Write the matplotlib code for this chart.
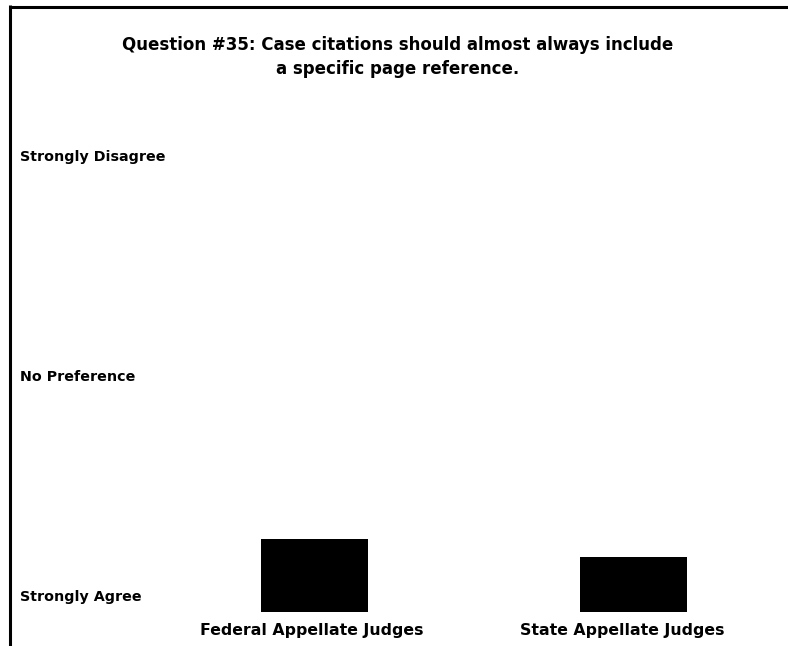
import matplotlib.pyplot as plt
import matplotlib.transforms as mtransforms
from matplotlib.lines import Line2D

# data
groups = ['Federal Appellate Judges', 'State Appellate Judges']
mean_scores = [1.66, 1.50]          # 1 = Strongly Agree ... 5 = Strongly Disagree
scale_values = [1, 3, 5]
scale_labels = ['Strongly Agree', 'No Preference', 'Strongly Disagree']
title = 'Question #35: Case citations should almost always include\na specific page reference.'

plt.rcParams['font.family'] = 'DejaVu Sans'
plt.rcParams['font.weight'] = 'bold'

W, H = 788, 646
fig = plt.figure(figsize=(W / 100, H / 100), dpi=100)

# axes placed in pixels
left, right, bottom, top = 187, 761, 612, 172
ax = fig.add_axes([left / W, (H - bottom) / H, (right - left) / W, (bottom - top) / H])

x = list(range(len(groups)))
ax.bar(x, [m - 1 for m in mean_scores], bottom=1, width=0.335, color='black')
ax.set_xlim(-0.4, 1.4)
ax.set_ylim(1, 5)

for s in ax.spines.values():
    s.set_visible(False)
ax.set_yticks([])
ax.set_xticks(x)
ax.set_xticklabels(groups, fontsize=11.3, fontweight='bold')
ax.tick_params(axis='x', length=0, pad=8)
# labels sit slightly left of the bar centres in the original
for lab, dx in zip(ax.get_xticklabels(), [-3, -11]):
    lab.set_transform(lab.get_transform() +
                      mtransforms.ScaledTranslation(dx / 100, 0, fig.dpi_scale_trans))

# y scale labels, left aligned near the figure edge
trans = mtransforms.blended_transform_factory(fig.transFigure, ax.transData)
off = mtransforms.ScaledTranslation(0, 15 / 100, fig.dpi_scale_trans)
for v, lab in zip(scale_values, scale_labels):
    ax.text(20 / W, v, lab, transform=trans + off, ha='left', va='center',
            fontsize=10.3, fontweight='bold')

fig.text(398 / W, 1 - 57 / H, title, ha='center', va='center', fontsize=12,
         fontweight='bold', linespacing=1.45)

# frame (cropped box)
fig.add_artist(Line2D([9.5 / W, 1], [1 - 6.5 / H, 1 - 6.5 / H], transform=fig.transFigure,
                      color='black', linewidth=2.2, solid_capstyle='butt'))
fig.add_artist(Line2D([9.5 / W, 9.5 / W], [0, 1 - 5 / H], transform=fig.transFigure,
                      color='black', linewidth=2.2, solid_capstyle='butt'))

fig.savefig('out.png', dpi=100)
